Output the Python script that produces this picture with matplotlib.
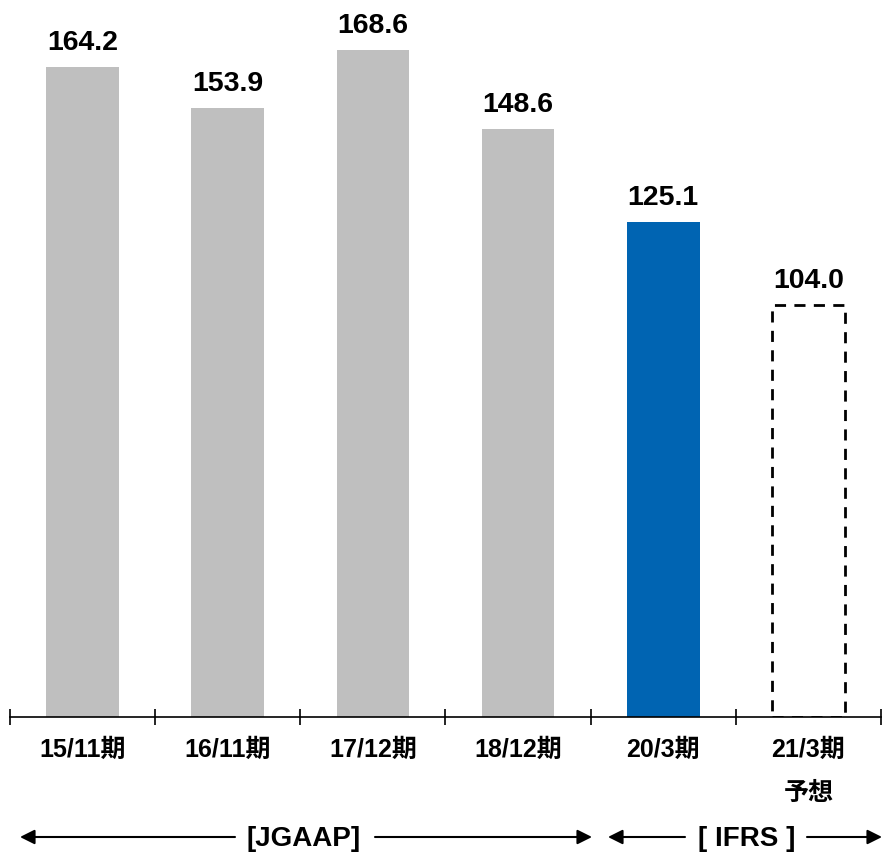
import matplotlib
matplotlib.use("Agg")
import matplotlib.pyplot as plt

periods = ["15/11期", "16/11期", "17/12期", "18/12期", "20/3期", "21/3期\n予想"]
values = [164.2, 153.9, 168.6, 148.6, 125.1, 104.0]
colors = ["#BFBFBF", "#BFBFBF", "#BFBFBF", "#BFBFBF", "#0064B2", "white"]

plt.rcParams['font.family'] = ['Liberation Sans', 'Noto Sans CJK JP']
plt.rcParams['font.weight'] = 'bold'

W, H = 883, 855
PXU = 3.958  # pixels per unit
fig = plt.figure(figsize=(W / 100, H / 100), dpi=100)
# axis line at y=717px, x from 10 to 881px
ax = fig.add_axes([10 / W, (H - 717) / H, 871 / W, 700 / H])

x = list(range(len(values)))
bars = ax.bar(x, values, width=0.5, color=colors)
# forecast bar: dashed outline
bars[-1].set_edgecolor("black")
bars[-1].set_linestyle((0, (4, 3)))
bars[-1].set_linewidth(2)

for xi, v in zip(x, values):
    ax.annotate(f"{v:.1f}", (xi, v), xytext=(0, 8), textcoords="offset points",
                ha="center", va="bottom", fontsize=20.5, fontweight="bold")

ax.set_xlim(-0.5, 5.5)
ax.set_ylim(0, 700 / PXU)
ax.set_yticks([])
for s in ["top", "right", "left"]:
    ax.spines[s].set_visible(False)
ax.spines["bottom"].set_linewidth(1.2)

ax.set_xticks([i - 0.5 for i in range(len(values) + 1)])
ax.set_xticklabels([])
ax.tick_params(axis="x", direction="inout", length=11, width=1.2)

# category labels, line centers at 750px and 793px
line_y = [750, 793]
for xi, lab in zip(x, periods):
    for k, part in enumerate(lab.split("\n")):
        ax.text(xi, (717 - line_y[k]) / PXU, part, ha="center", va="center",
                fontsize=18, fontweight="bold", clip_on=False)


def fx(px):
    return px / W


def fy(py):
    return (H - py) / H


ya = fy(837)
arrow = dict(arrowstyle="-|>", color="black", lw=1.5, mutation_scale=22, shrinkA=0, shrinkB=0)

# JGAAP
fig.text(fx(304), fy(839), "[JGAAP]", ha="center", va="center", fontsize=20, fontweight="bold")
ax.annotate("", xy=(fx(20), ya), xytext=(fx(235), ya), xycoords="figure fraction",
            textcoords="figure fraction", arrowprops=arrow)
ax.annotate("", xy=(fx(592), ya), xytext=(fx(375), ya), xycoords="figure fraction",
            textcoords="figure fraction", arrowprops=arrow)

# IFRS
fig.text(fx(747), fy(839), "[ IFRS ]", ha="center", va="center", fontsize=20, fontweight="bold")
ax.annotate("", xy=(fx(608), ya), xytext=(fx(685), ya), xycoords="figure fraction",
            textcoords="figure fraction", arrowprops=arrow)
ax.annotate("", xy=(fx(882), ya), xytext=(fx(807), ya), xycoords="figure fraction",
            textcoords="figure fraction", arrowprops=arrow)

fig.savefig("out.png", dpi=100)
